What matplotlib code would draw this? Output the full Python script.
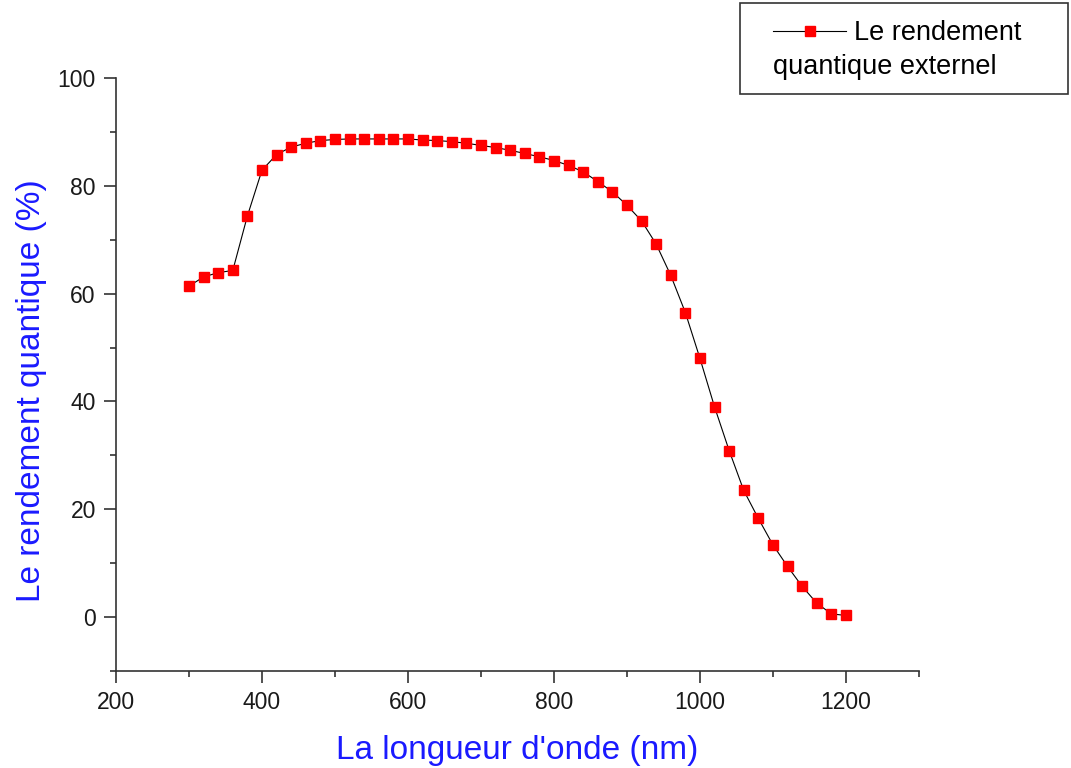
import matplotlib
matplotlib.use("Agg")
import matplotlib.pyplot as plt
from matplotlib.patches import Rectangle
from matplotlib.ticker import MultipleLocator

plt.rcParams["font.family"] = ["Liberation Sans", "DejaVu Sans"]

wavelength = [300, 320, 340, 360, 380, 400, 420, 440, 460, 480,
              500, 520, 540, 560, 580, 600, 620, 640, 660, 680,
              700, 720, 740, 760, 780, 800, 820, 840, 860, 880,
              900, 920, 940, 960, 980, 1000, 1020, 1040, 1060, 1080,
              1100, 1120, 1140, 1160, 1180, 1200]
eqe = [61.4, 63.1, 63.9, 64.3, 74.4, 82.9, 85.8, 87.2, 87.9, 88.4,
       88.6, 88.7, 88.7, 88.7, 88.7, 88.7, 88.5, 88.4, 88.2, 87.9,
       87.5, 87.1, 86.6, 86.0, 85.4, 84.7, 83.8, 82.6, 80.8, 78.9,
       76.4, 73.5, 69.2, 63.4, 56.5, 48.0, 39.0, 30.9, 23.5, 18.3,
       13.4, 9.4, 5.7, 2.6, 0.6, 0.3]

fig = plt.figure(figsize=(10.71, 7.68), dpi=100)
ax = fig.add_axes([0.1083, 0.1263, 0.7497, 0.7721])

ax.plot(wavelength, eqe, color="black", linewidth=0.8,
        marker="s", markersize=7.5, markerfacecolor="red",
        markeredgecolor="red", label="Le rendement")

ax.set_xlim(200, 1300)
ax.set_ylim(-10, 100)
ax.xaxis.set_major_locator(MultipleLocator(200))
ax.xaxis.set_minor_locator(MultipleLocator(100))
ax.yaxis.set_major_locator(MultipleLocator(20))
ax.yaxis.set_minor_locator(MultipleLocator(10))
ax.set_xticks([200, 400, 600, 800, 1000, 1200])

for side in ["top", "right"]:
    ax.spines[side].set_visible(False)
for side in ["left", "bottom"]:
    ax.spines[side].set_color("#333333")
    ax.spines[side].set_linewidth(1.2)

ax.tick_params(which="major", direction="out", length=8.5, width=1.2,
               color="#333333", labelsize=16.5, labelcolor="#1a1a1a", pad=6)
ax.tick_params(which="minor", direction="out", length=4, width=1.2,
               color="#333333")

ax.set_xlabel("La longueur d'onde (nm)", fontsize=24, color="#1a1aff",
              labelpad=15)
ax.set_ylabel("Le rendement quantique (%)", fontsize=24, color="#1a1aff")
ax.yaxis.set_label_coords(-0.086, 0.472)

# Origin-style legend box: first line next to the symbol, second line wraps under it
fig.add_artist(Rectangle((740 / 1071, 1 - 94 / 768), 328 / 1071, 91 / 768,
                         transform=fig.transFigure, fill=False,
                         edgecolor="#333333", linewidth=1.2))
leg = fig.legend(loc="center left", bbox_to_anchor=(773 / 1071, 1 - 33 / 768),
                 fontsize=19.5, frameon=False, borderpad=0, borderaxespad=0,
                 handlelength=2.7, handletextpad=0.3)
fig.text(773 / 1071, 1 - 67 / 768, "quantique externel", fontsize=19.5,
         va="center", ha="left")

fig.savefig("out.png", dpi=100)
